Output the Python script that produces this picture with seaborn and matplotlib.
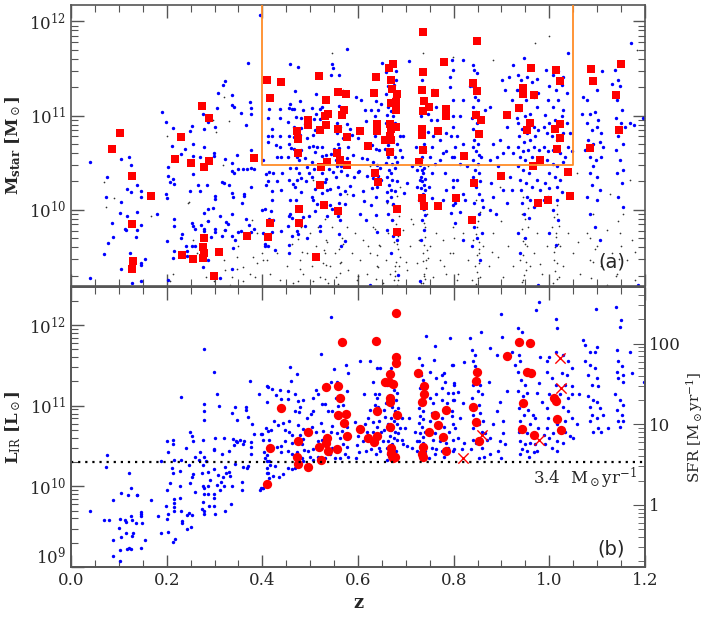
import numpy as np
import matplotlib
matplotlib.use("Agg")
import matplotlib.pyplot as plt
import seaborn as sns
from matplotlib.ticker import LogLocator, MultipleLocator, NullFormatter, FixedLocator, FixedFormatter

# ---- panel (a): stellar mass vs z, values as (z, log10 Mstar) ----
black_top = [
    (0.068,10.29),(0.089,10.13),(0.073,10.03),(0.167,9.93),(0.246,10.08),(0.284,9.88),(0.32,9.78),(0.346,9.5),
    (0.36,9.39),(0.319,9.47),(0.374,9.32),(0.388,9.43),(0.35,9.61),(0.336,9.29),(0.298,9.24),(0.332,9.2),
    (0.214,9.32),(0.207,9.24),(0.36,9.24),(0.385,9.29),(0.399,9.54),(0.388,9.75),(0.378,9.89),(0.303,10.83),
    (0.2,10.78),(0.32,11.2),(0.33,10.94),(0.296,10.95),(0.318,10.47),(0.256,9.68),(0.263,9.54),(0.245,10.07),
    (0.282,9.29),(0.322,9.36),(0.346,9.37),(0.381,9.5),(0.409,9.47),
    (0.402,9.47),(0.416,9.32),(0.43,9.54),(0.437,9.25),(0.451,9.40),(0.461,9.64),(0.465,9.22),(0.479,9.47),
    (0.486,9.32),(0.493,9.54),(0.5,9.75),(0.503,9.40),(0.506,9.24),(0.513,9.61),(0.517,9.82),(0.52,9.29),
    (0.527,9.43),(0.531,9.54),(0.534,9.68),(0.538,9.22),(0.541,9.40),(0.545,9.82),(0.552,9.54),(0.555,9.29),
    (0.562,9.43),(0.569,9.64),(0.576,9.82),(0.58,9.36),(0.587,9.54),(0.594,9.75),(0.597,9.25),(0.604,9.47),
    (0.611,9.68),(0.618,9.32),(0.625,9.54),(0.632,9.82),(0.639,9.40),(0.646,9.61),(0.653,9.22),(0.658,9.47),
    (0.663,9.75),(0.667,9.32),(0.67,9.54),(0.674,9.89),(0.677,9.40),(0.681,9.64),(0.684,9.25),(0.688,9.50),
    (0.695,9.79),(0.702,9.36),(0.709,9.61),(0.716,9.85),(0.723,9.43),(0.728,9.68),(0.732,9.22),(0.735,9.54),
    (0.738,9.32),(0.741,9.82),(0.743,9.47),(0.75,9.61),(0.757,9.29),(0.764,9.75),(0.771,9.47),(0.778,9.68),
    (0.785,9.32),(0.792,9.54),(0.799,9.82),(0.806,9.25),(0.479,10.03),(0.562,9.96),(0.66,10.07),(0.736,10.0),
    (0.506,10.32),(0.576,10.17),(0.625,10.46),(0.688,10.24),(0.747,10.46),(0.569,11.27),(0.736,11.66),
    (0.799,11.62),(0.545,11.66),
    (0.799,9.54),(0.81,9.32),(0.82,9.75),(0.831,9.47),(0.838,9.25),(0.841,9.68),(0.845,9.40),(0.848,9.82),
    (0.852,9.54),(0.855,9.29),(0.862,9.61),(0.873,9.40),(0.883,9.75),(0.893,9.50),(0.904,9.29),(0.914,9.61),
    (0.925,9.40),(0.935,9.75),(0.939,9.47),(0.942,9.96),(0.946,9.25),(0.949,9.64),(0.956,9.82),(0.96,9.40),
    (0.967,9.54),(0.974,9.75),(0.984,9.32),(0.995,9.61),(1.005,9.82),(1.01,9.47),(1.014,9.75),(1.017,9.96),
    (1.02,9.29),(1.022,9.61),(1.029,9.40),(1.04,9.75),(1.05,9.54),(1.064,9.32),(1.078,9.75),(1.085,9.47),
    (1.092,9.96),(1.099,9.61),(1.109,9.40),(1.12,9.79),(1.13,9.54),(1.141,9.32),(1.148,9.75),(1.155,9.96),
    (1.162,9.47),(1.172,9.68),(1.179,9.25),(0.897,10.24),(0.974,10.32),(1.057,10.39),(1.127,10.17),
    (1.169,10.32),(0.883,11.59),(0.97,11.77),(1.0,11.84),(1.183,11.70),
    (0.675,9.25),(0.678,9.35),(0.680,9.45),(0.683,9.58),(0.676,9.66),(0.684,9.72),(0.679,9.85),(0.686,9.93),
    (0.672,10.05),(0.681,10.15),(0.677,9.30),(0.685,9.40),(0.682,9.20),
    (0.735,9.22),(0.738,9.30),(0.742,9.38),(0.736,9.46),(0.744,9.57),(0.739,9.63),(0.741,9.71),(0.737,9.86),
    (0.745,9.95),(0.733,10.08),(0.740,9.26),(0.746,9.49),
    (0.846,9.21),(0.849,9.34),(0.852,9.43),(0.848,9.52),(0.853,9.66),(0.846,9.74),(0.850,9.88),(0.855,9.98),
    (0.847,10.10),(0.851,9.28),(0.854,9.58),
    (0.943,9.23),(0.947,9.31),(0.951,9.45),(0.945,9.52),(0.953,9.62),(0.948,9.70),(0.942,9.80),(0.950,9.90),
    (0.955,10.02),(0.944,10.14),(0.952,9.36),(0.946,9.67),
    (1.008,9.22),(1.012,9.35),(1.016,9.43),(1.010,9.55),(1.018,9.64),(1.013,9.71),(1.020,9.83),(1.009,9.92),
    (1.015,10.05),(1.017,9.27),(1.011,9.60),
    (0.558,9.21),(0.562,9.33),(0.565,9.45),(0.560,9.58),(0.566,9.70),(0.530,9.27),(0.534,9.41),(0.528,9.57),
    (0.536,9.66),(0.532,9.90),(0.475,9.24),(0.478,9.37),(0.482,9.55),(0.474,9.69),(0.480,9.82),
    (0.638,9.26),(0.642,9.39),(0.640,9.52),(0.644,9.63),(0.636,9.80),
    (1.088,9.28),(1.092,9.45),(1.095,9.58),(1.085,9.70),(1.140,9.30),(1.145,9.48),(1.150,9.62),(1.143,9.88),
    (0.60,9.30),(0.62,9.62),(0.70,9.45),(0.71,9.90),(0.78,9.40),(0.80,9.70),(0.88,9.55),(0.90,9.88),
    (0.98,9.42),(1.06,9.66),(1.12,9.20),(1.18,9.55),
]

blue_top = [
    (0.039,10.51),(0.075,10.35),(0.105,10.54),(0.122,10.56),(0.126,10.48),(0.118,10.22),(0.125,10.19),(0.146,10.20),
    (0.146,10.14),(0.137,10.26),(0.074,10.14),(0.105,10.08),(0.102,9.97),(0.086,9.86),(0.118,9.93),(0.138,9.98),
    (0.112,9.80),(0.114,9.78),(0.139,9.78),(0.147,9.84),(0.087,9.71),(0.136,9.71),(0.078,9.65),(0.07,9.53),
    (0.124,9.54),(0.146,9.43),(0.147,9.41),(0.155,9.48),(0.105,9.37),(0.128,9.22),(0.04,9.28),(0.18,9.96),
    (0.199,10.17),(0.201,10.13),(0.19,11.04),(0.199,10.93),(0.213,10.87),(0.212,10.68),(0.203,10.45),(0.202,10.36),
    (0.214,10.33),(0.215,10.27),(0.207,10.29),(0.248,10.20),(0.27,10.20),(0.266,10.26),(0.215,9.90),(0.215,9.83),
    (0.2,9.67),(0.202,9.25),(0.231,9.74),(0.229,9.70),(0.241,9.62),(0.216,9.56),(0.242,9.56),(0.214,9.49),
    (0.243,9.51),(0.253,9.86),(0.255,9.83),(0.259,9.80),(0.252,9.62),(0.259,9.61),(0.238,10.64),(0.229,10.59),
    (0.248,10.84),(0.253,10.89),(0.254,10.70),(0.254,10.57),(0.27,10.56),(0.277,10.67),(0.277,10.86),(0.275,11.02),
    (0.287,10.93),(0.3,10.88),(0.255,10.38),(0.285,10.26),(0.277,9.97),(0.287,10.01),(0.296,10.02),(0.3,10.15),
    (0.3,10.11),(0.298,10.60),(0.299,10.57),(0.321,10.54),(0.337,10.50),(0.312,9.93),(0.337,9.95),(0.323,9.87),
    (0.329,9.85),(0.287,9.88),(0.272,9.84),(0.277,9.80),(0.278,9.77),(0.3,9.80),(0.322,9.79),(0.3,9.76),
    (0.293,9.71),(0.316,9.72),(0.337,9.72),(0.35,9.76),(0.342,9.68),(0.339,9.59),(0.356,9.77),(0.383,9.80),
    (0.365,9.90),(0.372,9.84),(0.376,9.76),(0.275,9.39),(0.286,9.47),(0.311,9.28),(0.336,9.37),(0.339,10.14),
    (0.361,10.15),(0.358,10.07),(0.362,10.17),(0.376,10.24),(0.337,10.18),(0.33,10.26),(0.316,10.29),(0.32,10.28),
    (0.337,10.41),(0.341,10.39),(0.349,10.43),(0.36,10.43),(0.367,10.43),(0.383,10.43),(0.376,10.44),(0.346,10.58),
    (0.376,10.63),(0.308,11.24),(0.317,11.32),(0.322,11.37),(0.336,11.22),(0.337,11.11),(0.34,11.09),(0.305,11.08),
    (0.356,11.03),(0.375,11.14),(0.376,11.08),(0.377,11.02),(0.366,10.90),(0.37,11.56),(0.395,12.07),(0.402,10.53),
    (0.411,10.72),(0.411,10.78),(0.411,10.97),(0.413,11.07),(0.413,10.40),(0.411,10.30),(0.411,9.62),(0.405,9.64),
    (0.401,9.75),(0.413,9.90),(0.399,10.00),(0.146,9.24),
    (0.437,11.07),(0.437,10.97),(0.437,10.78),(0.429,10.69),(0.42,10.86),(0.421,10.78),(0.437,10.67),(0.438,10.56),
    (0.431,10.56),(0.407,10.38),(0.423,10.39),(0.408,10.26),(0.421,10.20),(0.44,10.21),(0.43,10.30),(0.441,10.39),
    (0.42,10.10),(0.419,9.99),(0.405,10.01),(0.423,9.89),(0.406,9.62),(0.42,9.76),(0.438,9.77),(0.427,9.57),
    (0.457,11.55),(0.469,11.26),(0.474,11.52),(0.457,11.12),(0.456,11.08),(0.462,11.07),(0.479,11.15),(0.47,10.98),
    (0.481,10.97),(0.467,11.07),(0.454,10.93),(0.466,10.88),(0.481,10.87),(0.456,10.78),(0.466,10.77),(0.479,10.79),
    (0.456,10.70),(0.459,10.66),(0.467,10.65),(0.481,10.63),(0.472,10.56),(0.477,10.53),(0.454,10.56),(0.458,10.44),
    (0.47,10.44),(0.476,10.39),(0.481,10.34),(0.473,10.32),(0.464,10.27),(0.456,10.32),(0.469,10.24),(0.481,10.19),
    (0.458,10.10),(0.47,10.10),(0.458,9.96),(0.455,9.93),(0.463,9.91),(0.453,9.83),(0.472,9.77),(0.463,9.72),
    (0.456,9.63),(0.456,9.54),(0.474,9.74),(0.485,9.92),(0.493,9.70),
    (0.486,11.06),(0.504,11.08),(0.512,11.23),(0.521,11.07),(0.524,11.09),(0.509,10.96),(0.52,10.96),(0.49,10.91),
    (0.511,10.85),(0.505,10.79),(0.493,10.76),(0.498,10.67),(0.506,10.68),(0.515,10.67),(0.524,10.67),(0.51,10.61),
    (0.525,10.57),(0.533,10.58),(0.544,10.59),(0.49,10.55),(0.504,10.51),(0.493,10.45),(0.509,10.43),(0.539,10.43),
    (0.547,10.40),(0.497,10.39),(0.503,10.35),(0.525,10.39),(0.534,10.33),(0.532,10.29),(0.491,10.30),(0.511,10.22),
    (0.524,10.18),(0.536,10.21),(0.541,10.22),(0.503,10.14),(0.506,10.10),(0.515,10.06),(0.542,10.05),(0.546,10.01),
    (0.511,9.99),(0.497,9.93),(0.535,9.93),(0.52,9.83),(0.521,9.77),(0.49,9.83),(0.544,11.43),(0.547,11.51),
    (0.545,11.55),(0.513,11.02),
    (0.561,11.43),(0.578,11.71),(0.561,11.10),(0.563,11.03),(0.556,10.92),(0.562,10.88),(0.557,10.82),(0.568,10.76),
    (0.559,10.70),(0.561,10.66),(0.58,10.67),(0.55,10.64),(0.561,10.56),(0.555,10.53),(0.577,10.55),(0.557,10.46),
    (0.565,10.46),(0.553,10.35),(0.564,10.41),(0.559,10.24),(0.578,10.37),(0.572,10.20),(0.583,10.25),(0.592,10.35),
    (0.601,10.40),(0.589,10.58),(0.6,10.76),(0.596,11.20),(0.562,10.17),(0.561,10.07),(0.559,9.93),(0.562,9.89),
    (0.561,9.74),(0.572,9.67),(0.564,9.61),(0.573,10.06),(0.589,10.16),(0.584,10.86),(0.587,10.79),(0.578,10.91),
    (0.607,11.17),(0.614,11.06),(0.616,10.94),(0.628,11.06),(0.636,10.99),(0.638,11.15),(0.637,10.92),(0.642,11.06),
    (0.648,11.12),(0.636,10.78),(0.629,10.69),(0.637,10.64),(0.643,10.63),(0.608,10.55),(0.618,10.54),(0.632,10.51),
    (0.64,10.47),(0.646,10.44),(0.603,10.41),(0.619,10.36),(0.632,10.34),(0.642,10.36),(0.649,10.32),(0.611,10.20),
    (0.629,10.23),(0.637,10.14),(0.64,10.24),(0.612,10.09),(0.627,10.05),(0.604,9.96),(0.617,9.89),(0.638,9.94),
    (0.64,9.76),(0.626,9.20),
    (0.651,11.56),(0.658,11.46),(0.68,11.47),(0.679,11.38),(0.663,11.31),(0.675,11.32),(0.658,11.23),(0.676,11.20),
    (0.663,11.09),(0.67,11.05),(0.682,11.09),(0.66,11.01),(0.674,10.99),(0.677,10.92),(0.658,10.92),(0.668,10.83),
    (0.66,10.78),(0.674,10.74),(0.663,10.69),(0.681,10.70),(0.656,10.64),(0.671,10.63),(0.663,10.56),(0.677,10.56),
    (0.658,10.50),(0.672,10.49),(0.682,10.51),(0.664,10.42),(0.677,10.44),(0.67,10.39),(0.66,10.35),(0.672,10.32),
    (0.681,10.30),(0.664,10.26),(0.668,10.21),(0.677,10.20),(0.66,10.19),(0.67,10.14),(0.661,10.09),(0.674,10.06),
    (0.663,9.96),(0.671,9.89),(0.661,9.78),(0.674,9.72),(0.681,9.68),(0.67,9.54),(0.684,9.31),(0.688,10.78),
    (0.695,10.78),(0.688,10.63),(0.693,10.56),(0.697,10.18),(0.707,11.58),
    (0.702,10.28),(0.712,10.46),(0.721,10.67),(0.723,10.42),(0.723,10.24),(0.728,10.10),(0.73,10.32),(0.733,10.42),
    (0.732,10.53),(0.73,10.47),(0.737,10.44),(0.735,10.39),(0.731,10.35),(0.74,10.33),(0.734,10.30),(0.737,10.26),
    (0.732,10.23),(0.74,10.21),(0.735,10.17),(0.731,10.07),(0.737,10.01),(0.74,9.94),(0.734,9.89),(0.738,9.78),
    (0.732,9.68),(0.73,9.24),(0.734,11.38),(0.733,11.16),(0.731,10.99),(0.73,10.78),(0.739,10.70),(0.741,10.62),
    (0.734,10.56),(0.75,10.56),(0.754,10.67),(0.757,10.78),(0.747,10.83),(0.752,10.95),(0.757,11.27),(0.747,11.02),
    (0.755,10.39),(0.749,10.24),(0.754,10.12),
    (0.762,10.49),(0.771,10.53),(0.777,10.60),(0.785,10.62),(0.796,10.56),(0.803,10.67),(0.797,11.59),(0.792,11.41),
    (0.792,11.30),(0.798,11.16),(0.785,11.02),(0.799,10.88),(0.795,10.78),(0.785,10.81),(0.771,10.74),(0.766,10.95),
    (0.763,11.09),(0.782,10.39),(0.798,10.32),(0.785,10.21),(0.777,10.10),(0.799,10.05),(0.794,9.97),
    (0.82,11.16),(0.813,10.99),(0.799,10.99),(0.806,10.78),(0.82,10.70),(0.801,10.56),(0.813,10.49),(0.827,10.46),
    (0.806,10.32),(0.799,10.24),(0.82,10.17),(0.803,10.07),(0.813,9.98),(0.824,10.10),(0.803,9.86),(0.82,9.68),
    (0.798,11.48),
    (0.841,11.54),(0.843,11.48),(0.848,11.45),(0.84,11.31),(0.845,11.20),(0.85,11.16),(0.841,11.09),(0.847,11.04),
    (0.838,10.97),(0.848,10.92),(0.84,10.86),(0.852,10.83),(0.843,10.74),(0.85,10.70),(0.84,10.67),(0.847,10.62),
    (0.854,10.58),(0.841,10.53),(0.85,10.49),(0.857,10.56),(0.845,10.42),(0.852,10.39),(0.841,10.35),(0.855,10.30),
    (0.847,10.24),(0.852,10.17),(0.859,10.10),(0.843,10.07),(0.862,10.03),(0.852,9.96),(0.843,9.82),(0.859,9.75),
    (0.848,9.70),(0.855,9.47),(0.838,9.61),(0.834,11.31),(0.82,11.59),
    (0.866,11.06),(0.875,11.09),(0.876,10.53),(0.883,10.70),(0.89,10.56),(0.897,10.74),(0.893,10.46),(0.904,10.60),
    (0.902,11.38),(0.907,11.27),(0.916,11.41),(0.921,11.16),(0.911,10.88),(0.914,10.67),(0.918,10.35),(0.879,10.28),
    (0.883,10.14),(0.904,10.21),(0.911,10.07),(0.921,10.21),(0.876,10.00),(0.889,9.96),(0.925,11.54),(0.947,11.61),
    (0.935,11.43),(0.941,11.38),(0.953,11.41),(0.963,11.36),(0.974,11.39),(0.937,11.27),(0.951,11.16),(0.967,11.20),
    (0.977,11.24),(0.939,11.06),(0.949,10.99),(0.96,11.02),(0.974,11.09),(0.935,10.92),(0.942,10.86),(0.953,10.81),
    (0.967,10.88),(0.977,10.85),(0.937,10.78),(0.947,10.72),(0.96,10.74),(0.97,10.78),(0.935,10.67),(0.944,10.62),
    (0.956,10.63),(0.967,10.67),(0.979,10.63),(0.939,10.56),(0.949,10.53),(0.963,10.56),(0.935,10.46),(0.946,10.42),
    (0.958,10.39),(0.939,10.32),(0.951,10.28),(0.963,10.24),(0.974,10.32),(0.94,10.21),(0.953,10.14),(0.96,10.10),
    (0.942,10.07),(0.967,10.03),(0.947,9.96),(0.958,9.91),(0.935,9.75),(0.949,9.70),(0.939,9.54),(0.977,9.20),
    (0.932,11.27),(0.932,10.97),(0.925,10.60),
    (0.994,11.48),(1.008,11.43),(1.019,11.47),(1.029,11.41),(1.04,11.66),(1.0,11.31),(1.014,11.27),(1.026,11.32),
    (1.036,11.24),(0.998,11.16),(1.008,11.09),(1.019,11.16),(1.029,11.06),(0.991,11.01),(1.0,10.92),(1.012,10.95),
    (1.026,10.99),(1.036,10.92),(0.995,10.81),(1.005,10.78),(1.015,10.74),(1.029,10.81),(1.04,10.67),(0.988,10.67),
    (0.998,10.62),(1.008,10.63),(1.022,10.60),(1.033,10.56),(0.995,10.53),(1.008,10.49),(1.017,10.46),(1.028,10.51),
    (1.0,10.39),(1.012,10.35),(1.022,10.32),(0.991,10.28),(1.0,10.23),(1.015,10.24),(1.026,10.19),(0.998,10.14),
    (1.015,10.10),(1.008,10.00),(1.019,9.89),(1.0,9.75),(1.014,9.63),(0.988,10.88),(1.043,10.81),(1.047,10.62),
    (0.981,10.21),(0.988,10.10),
    (1.071,11.20),(1.078,11.16),(1.085,11.02),(1.095,11.04),(1.102,10.95),(1.078,10.92),(1.089,10.85),(1.099,10.88),
    (1.109,10.81),(1.081,10.74),(1.092,10.70),(1.106,10.72),(1.113,10.67),(1.075,10.63),(1.085,10.56),(1.098,10.53),
    (1.107,10.56),(1.092,10.46),(1.084,10.39),(1.099,10.35),(1.089,10.26),(1.106,10.21),(1.078,10.14),(1.099,10.10),
    (1.085,9.96),(1.095,9.82),(1.106,9.68),(1.11,11.47),(1.099,11.27),(1.068,11.02),
    (1.137,11.48),(1.144,11.38),(1.148,11.31),(1.141,11.16),(1.151,11.06),(1.139,10.97),(1.149,10.92),(1.158,10.88),
    (1.144,10.78),(1.155,10.70),(1.139,10.63),(1.148,10.53),(1.155,10.42),(1.141,10.39),(1.151,10.28),(1.144,10.14),
    (1.155,10.03),(1.169,10.92),(1.176,10.90),(1.171,11.77),(1.13,11.34),(1.186,9.20),(1.195,10.97),
]

red_top = [
    (0.1025,10.82),(0.086,10.64),(0.128,10.36),(0.167,10.15),(0.127,9.85),(0.130,9.46),(0.128,9.37),
    (0.273,11.10),(0.288,10.97),(0.229,10.77),(0.218,10.54),(0.251,10.50),(0.289,10.52),(0.277,10.45),(0.383,10.55),
    (0.278,9.70),(0.367,9.72),(0.276,9.60),(0.277,9.54),(0.276,9.49),(0.309,9.55),(0.233,9.52),(0.254,9.48),(0.298,9.30),
    (0.409,11.38),(0.415,11.19),(0.415,9.86),(0.411,9.71),
    (0.440,11.36),(0.519,11.42),(0.638,11.41),(0.673,11.55),(0.664,11.50),(0.668,11.38),(0.735,11.89),(0.779,11.57),
    (0.736,11.46),(0.559,11.25),(0.574,11.23),(0.534,11.17),(0.634,11.24),(0.672,11.28),(0.682,11.23),(0.733,11.27),
    (0.762,11.24),(0.737,11.15),(0.669,11.13),(0.679,11.14),(0.680,11.06),(0.749,11.09),(0.783,11.07),(0.735,11.05),
    (0.785,11.00),(0.571,11.06),(0.537,11.02),(0.532,10.99),(0.566,11.01),(0.496,10.95),(0.495,10.90),(0.533,10.90),
    (0.473,10.84),(0.521,10.85),(0.558,10.86),(0.604,10.84),(0.640,10.91),(0.639,10.84),(0.667,10.91),(0.668,10.86),
    (0.680,10.88),(0.733,10.86),(0.733,10.79),(0.767,10.84),(0.475,10.75),(0.577,10.77),(0.666,10.78),(0.656,10.74),
    (0.669,10.74),(0.620,10.68),(0.474,10.60),(0.556,10.60),(0.666,10.61),(0.736,10.63),(0.562,10.53),(0.535,10.51),
    (0.576,10.48),(0.522,10.45),(0.727,10.51),(0.635,10.39),(0.641,10.29),(0.520,10.26),(0.733,10.13),(0.739,10.04),
    (0.767,10.04),(0.804,10.12),(0.529,10.05),(0.476,10.01),(0.558,9.99),(0.682,10.01),(0.477,9.86),(0.681,9.76),
    (0.513,9.50),
    (0.848,11.79),(0.961,11.50),(1.013,11.48),(1.088,11.49),(1.150,11.55),(0.840,11.35),(0.848,11.26),(1.023,11.37),
    (1.091,11.37),(0.944,11.29),(0.944,11.23),(0.968,11.22),(1.139,11.22),(0.937,11.08),(0.912,11.01),(0.846,11.01),
    (0.858,10.95),(0.960,10.92),(0.953,10.85),(1.011,10.86),(1.022,10.91),(1.145,10.85),(0.853,10.80),(1.023,10.76),
    (1.016,10.64),(1.085,10.66),(0.821,10.57),(0.981,10.53),(0.966,10.46),(1.038,10.40),(0.899,10.36),(0.842,10.28),
    (1.043,10.15),(0.997,10.10),(0.976,10.07),(0.838,9.89),
]

# selection box of panel (a): z range and minimum mass
box_z = [0.40, 1.05]
box_mass_min = 3.0e10

# ---- panel (b): infrared luminosity vs z, values as (z, log10 L_IR) ----
blue_bot = [
    (0.039,9.70),(0.07,9.58),(0.079,9.58),(0.075,10.39),(0.074,10.24),(0.087,9.83),(0.087,9.34),(0.087,9.14),
    (0.103,9.08),(0.101,9.48),(0.103,9.21),(0.105,9.37),(0.105,9.92),(0.103,9.59),(0.113,9.58),(0.114,9.56),
    (0.114,9.42),(0.119,9.89),(0.122,10.17),(0.125,9.98),(0.126,9.63),(0.127,9.58),(0.126,9.22),(0.121,9.23),
    (0.118,9.22),(0.128,9.38),(0.13,9.42),(0.136,9.55),(0.137,9.89),(0.139,9.89),(0.146,9.68),(0.146,9.66),
    (0.146,9.63),(0.148,9.54),(0.146,9.24),(0.155,9.34),(0.167,9.83),(0.181,9.63),(0.188,9.42),(0.189,10.31),
    (0.201,10.56),(0.202,10.42),(0.2,9.96),(0.198,9.76),(0.202,9.66),(0.201,9.60),(0.202,9.44),(0.211,10.23),
    (0.207,10.04),(0.213,10.57),(0.214,10.52),(0.215,10.33),(0.214,10.16),(0.215,9.84),(0.215,9.79),(0.216,9.74),
    (0.215,9.69),(0.218,9.35),(0.214,9.31),(0.227,10.19),(0.229,10.33),(0.228,10.01),(0.228,9.86),(0.229,9.69),
    (0.231,9.57),(0.232,9.54),(0.229,11.11),(0.241,10.48),(0.243,9.64),(0.243,9.47),(0.247,10.27),(0.249,10.68),
    (0.252,10.63),(0.254,10.56),(0.255,10.15),(0.253,10.11),(0.249,10.04),(0.247,9.67),(0.251,9.49),(0.253,9.65),
    (0.259,9.93),(0.26,10.36),(0.267,10.33),(0.27,10.42),(0.273,9.72),(0.273,10.17),(0.275,10.57),(0.276,10.26),
    (0.277,10.82),(0.277,10.93),(0.277,11.02),(0.278,11.70),(0.275,10.0),(0.277,9.98),(0.283,10.31),(0.277,9.91),
    (0.275,9.81),(0.277,9.70),(0.277,9.66),(0.277,10.37),(0.287,10.18),(0.287,10.01),(0.286,9.91),(0.288,9.76),
    (0.291,10.08),(0.298,10.45),(0.299,10.46),(0.3,10.60),(0.298,10.22),(0.298,9.90),(0.299,9.86),(0.299,9.76),
    (0.3,9.66),(0.298,11.42),(0.305,11.15),(0.305,10.02),(0.31,11.0),(0.308,10.14),(0.312,9.95),(0.313,10.06),
    (0.316,10.40),(0.317,10.11),(0.32,10.60),(0.322,10.24),(0.323,10.17),(0.32,10.00),(0.321,9.70),(0.33,10.44),
    (0.331,10.18),(0.333,10.13),(0.335,9.78),(0.337,10.01),(0.337,10.91),(0.338,10.59),(0.341,10.51),(0.342,10.28),
    (0.344,10.56),(0.343,10.99),(0.346,10.82),(0.348,10.55),(0.354,10.57),(0.358,10.05),(0.358,9.96),(0.359,10.52),
    (0.359,10.24),(0.362,10.56),(0.366,10.99),(0.365,10.95),(0.369,10.86),(0.368,10.23),(0.371,10.25),(0.376,10.55),
    (0.376,10.49),(0.376,10.40),(0.378,10.77),(0.374,11.31),(0.383,10.65),(0.394,11.15),(0.395,9.96),(0.401,10.58),
    (0.404,10.43),(0.41,10.39),(0.411,10.69),(0.41,11.05),(0.411,11.23),(0.413,10.58),(0.409,10.32),(0.41,10.16),
    (0.414,10.10),(0.401,9.98),(0.4,10.65),(0.413,10.32),
    (0.543,12.10),(0.522,11.64),(0.458,11.48),(0.473,11.39),(0.46,11.31),(0.41,11.25),(0.42,11.21),(0.437,11.19),
    (0.428,11.13),(0.454,11.18),(0.454,11.08),(0.468,11.15),(0.474,11.06),(0.486,11.07),(0.513,11.19),(0.517,11.14),
    (0.505,11.09),(0.524,11.02),(0.531,11.02),(0.549,11.46),(0.557,11.30),(0.575,11.50),(0.58,11.40),(0.544,11.30),
    (0.578,11.18),(0.553,11.09),(0.546,10.93),(0.558,11.00),(0.568,11.01),(0.538,10.94),(0.506,10.93),(0.501,10.90),
    (0.479,10.99),(0.477,10.92),(0.468,10.93),(0.493,10.85),(0.438,11.08),(0.435,10.98),(0.424,10.81),(0.419,10.70),
    (0.408,10.72),(0.398,10.65),(0.433,10.76),(0.444,10.79),(0.447,10.70),(0.456,10.81),(0.455,10.68),(0.463,10.64),
    (0.474,10.76),(0.484,10.71),(0.479,10.64),(0.486,10.59),(0.503,10.74),(0.513,10.68),(0.522,10.78),(0.526,10.69),
    (0.516,10.56),(0.524,10.58),(0.545,10.75),(0.543,10.68),(0.556,10.66),(0.563,10.60),(0.567,10.69),(0.578,10.74),
    (0.569,10.52),(0.578,10.49),(0.559,10.48),(0.545,10.47),(0.506,10.46),(0.496,10.44),(0.488,10.45),(0.482,10.52),
    (0.473,10.56),(0.461,10.54),(0.447,10.56),(0.44,10.50),(0.43,10.49),(0.438,10.42),(0.454,10.44),(0.463,10.40),
    (0.472,10.42),(0.483,10.35),(0.5,10.37),(0.506,10.33),(0.517,10.37),(0.531,10.35),(0.541,10.40),(0.552,10.35),
    (0.562,10.35),(0.573,10.40),(0.58,10.37),(0.594,10.80),(0.599,10.62),(0.597,10.51),(0.603,10.42),(0.595,10.35),
    (0.613,11.14),(0.604,11.56),(0.614,10.77),(0.618,10.68),(0.611,10.56),(0.617,10.44),(0.621,10.62),(0.625,11.56),
    (0.632,11.29),(0.635,11.14),(0.639,11.47),(0.64,11.09),(0.644,11.14),(0.635,11.01),(0.642,10.99),(0.647,11.47),
    (0.625,10.95),(0.621,10.85),(0.632,10.80),(0.639,10.74),(0.632,10.68),(0.644,10.81),(0.649,10.68),(0.63,10.58),
    (0.643,10.48),(0.637,10.40),(0.647,10.44),(0.628,10.46),(0.653,10.56),(0.654,10.70),(0.656,10.86),(0.655,10.95),
    (0.658,11.03),(0.66,11.26),(0.668,11.47),(0.67,11.26),(0.675,11.20),(0.681,11.16),(0.672,11.12),(0.679,11.07),
    (0.671,10.99),(0.677,10.93),(0.684,10.97),(0.669,10.85),(0.675,10.81),(0.682,10.77),(0.663,10.77),(0.67,10.70),
    (0.677,10.68),(0.684,10.66),(0.667,10.62),(0.675,10.60),(0.663,10.56),(0.672,10.53),(0.681,10.57),(0.66,10.48),
    (0.67,10.46),(0.679,10.44),(0.663,10.40),(0.682,10.37),(0.66,10.33),(0.688,10.72),(0.691,10.58),(0.695,10.52),
    (0.702,10.50),(0.698,10.72),(0.693,10.85),(0.706,10.85),(0.712,10.48),(0.719,10.68),(0.723,10.56),(0.724,10.44),
    (0.728,11.59),(0.733,11.51),(0.732,11.38),(0.735,11.32),(0.73,11.22),(0.739,11.14),(0.731,11.05),(0.728,10.97),
    (0.735,10.93),(0.73,10.87),(0.736,10.83),(0.728,10.79),(0.734,10.73),(0.74,10.68),(0.73,10.66),(0.735,10.61),
    (0.728,10.56),(0.736,10.54),(0.731,10.46),(0.74,10.44),(0.73,10.40),(0.738,10.35),(0.742,11.87),(0.761,11.74),
    (0.759,11.57),(0.75,11.42),(0.764,11.34),(0.775,11.38),(0.78,11.40),(0.792,11.84),(0.798,11.51),(0.782,11.30),
    (0.801,11.28),(0.775,11.22),(0.789,11.16),(0.799,11.16),(0.763,11.14),(0.75,11.09),(0.757,11.03),(0.775,11.07),
    (0.787,11.03),(0.799,11.07),(0.754,10.91),(0.766,10.87),(0.775,10.85),(0.796,10.87),(0.75,10.81),(0.78,10.74),
    (0.798,10.77),(0.749,10.70),(0.761,10.66),(0.791,10.68),(0.757,10.58),(0.771,10.56),(0.785,10.54),(0.799,10.58),
    (0.754,10.48),(0.764,10.46),(0.775,10.44),(0.789,10.48),(0.798,10.44),(0.761,10.40),(0.78,10.37),(0.749,10.35),
    (0.405,10.35),(0.409,10.23),(0.412,10.17),(0.423,10.13),(0.416,10.27),(0.426,10.25),(0.435,10.12),(0.402,9.98),
    (0.397,9.98),(0.454,10.23),(0.461,10.21),(0.468,10.23),(0.444,10.15),(0.486,10.31),
    (0.857,11.91),(0.839,11.69),(0.845,11.63),(0.84,11.55),(0.845,11.49),(0.822,11.54),(0.834,11.84),(0.797,11.51),
    (0.801,11.26),(0.81,11.17),(0.801,11.07),(0.796,10.93),(0.82,11.03),(0.813,10.85),(0.803,10.72),(0.81,10.60),
    (0.822,10.54),(0.801,10.46),(0.817,10.46),(0.836,10.46),(0.841,11.26),(0.85,11.18),(0.855,11.26),(0.838,11.09),
    (0.852,11.01),(0.859,11.14),(0.841,10.89),(0.855,10.91),(0.862,10.81),(0.841,10.72),(0.852,10.77),(0.859,10.68),
    (0.866,10.66),(0.841,10.58),(0.847,10.54),(0.859,10.48),(0.869,10.58),(0.875,10.60),(0.852,10.35),(0.864,10.37),
    (0.876,10.40),(0.873,11.30),(0.877,11.72),(0.89,11.63),(0.883,10.77),(0.89,10.93),(0.897,11.05),(0.904,10.81),
    (0.897,10.56),(0.907,10.52),(0.9,10.35),(0.893,10.44),(0.904,10.66),(0.911,11.18),(0.9,12.14),(0.902,11.85),
    (0.921,11.67),(0.928,11.51),(0.935,11.97),(0.942,11.92),(0.937,11.63),(0.939,11.55),(0.935,11.42),(0.941,11.32),
    (0.949,11.26),(0.935,11.18),(0.944,11.12),(0.953,11.16),(0.937,10.97),(0.947,10.89),(0.956,10.95),(0.965,10.89),
    (0.939,10.81),(0.96,10.77),(0.97,10.85),(0.937,10.68),(0.953,10.66),(0.977,10.72),(0.939,10.56),(0.949,10.52),
    (0.96,10.54),(0.97,10.52),(0.942,10.46),(0.954,10.44),(0.967,10.42),(0.939,10.40),(0.958,10.37),(0.974,10.44),
    (0.981,11.61),(0.979,11.28),(0.974,11.16),(0.984,11.05),(0.972,12.19),(0.979,12.29),(0.995,11.55),(1.0,11.61),
    (0.995,11.42),(1.005,11.34),(1.014,12.08),(1.015,11.96),(1.014,11.67),(1.029,11.63),(1.04,11.55),(1.047,11.47),
    (1.036,11.38),(1.026,11.40),(1.014,11.26),(1.033,11.26),(1.047,11.24),(1.0,11.14),(1.022,11.14),(1.04,11.09),
    (1.047,11.14),(0.995,10.97),(1.029,10.99),(1.04,10.93),(0.998,10.85),(1.015,10.77),(1.033,10.81),(1.047,10.85),
    (0.995,10.72),(1.008,10.66),(1.033,10.68),(1.043,10.62),(1.0,10.60),(1.017,10.56),(1.029,10.54),(1.05,10.60),
    (0.991,10.52),(1.005,10.48),(1.015,10.44),(0.988,10.64),(1.057,10.77),(1.061,11.14),(1.07,11.81),(1.075,11.75),
    (1.098,12.20),(1.085,11.67),(1.095,11.67),(1.099,11.73),(1.075,11.55),(1.085,11.51),(1.095,11.47),(1.081,11.38),
    (1.099,11.34),(1.089,11.26),(1.102,11.24),(1.081,11.12),(1.092,11.07),(1.099,11.05),(1.085,10.99),(1.106,10.97),
    (1.089,10.89),(1.099,10.85),(1.113,10.89),(1.085,10.81),(1.102,10.72),(1.109,10.68),(1.092,10.68),(1.123,10.72),
    (1.14,12.23),(1.149,12.06),(1.148,11.98),(1.141,11.69),(1.144,11.55),(1.151,11.49),(1.142,11.42),(1.155,11.38),
    (1.172,11.40),(1.169,11.67),(1.144,11.34),(1.153,11.30),(1.137,11.14),(1.148,11.07),(1.155,11.01),(1.141,10.95),
    (1.151,10.89),(1.144,10.81),(1.155,10.81),(1.148,10.74),(1.197,11.30),
]

red_bot = [
    (0.416,10.47),(0.409,10.03),
    (0.679,12.15),(0.566,11.79),(0.638,11.80),(0.680,11.60),(0.680,11.53),(0.726,11.41),(0.667,11.39),(0.657,11.29),
    (0.665,11.29),(0.673,11.27),(0.533,11.23),(0.558,11.25),(0.737,11.24),(0.737,11.15),(0.562,11.10),(0.666,11.10),
    (0.666,11.04),(0.733,11.05),(0.440,10.97),(0.639,10.93),(0.559,10.89),(0.574,10.90),(0.681,10.89),(0.761,10.89),
    (0.785,10.95),(0.571,10.79),(0.767,10.76),(0.666,10.74),(0.604,10.71),(0.496,10.68),(0.749,10.67),(0.578,10.63),
    (0.639,10.62),(0.778,10.61),(0.535,10.60),(0.620,10.60),(0.475,10.56),(0.534,10.54),(0.634,10.55),(0.519,10.49),
    (0.537,10.44),(0.556,10.46),(0.668,10.48),(0.735,10.49),(0.783,10.44),(0.668,10.41),(0.733,10.40),(0.672,10.38),
    (0.677,10.36),(0.673,10.35),(0.735,10.37),(0.473,10.36),(0.522,10.33),(0.474,10.28),(0.496,10.24),
    (0.937,11.79),(0.960,11.78),(0.912,11.62),(0.848,11.42),(0.953,11.42),(0.961,11.41),(0.847,11.31),(1.010,11.09),
    (1.014,11.06),(0.840,10.99),(0.944,11.03),(0.847,10.80),(1.017,10.83),(0.943,10.71),(1.024,10.70),(0.968,10.64),
    (0.854,10.56),
]

cross_bot = [(0.820,10.35),(0.859,10.64),(1.022,11.59),(1.024,11.22),(0.979,10.58)]

lir_limit = 2.0e10        # 3.4 Msun/yr
sfr_per_lir = 1.7e-10     # SFR = 1.7e-10 L_IR
sfr_ticks = [1, 10, 100]


def arr(pairs):
    a = np.array(pairs, dtype=float)
    return a[:, 0], 10 ** a[:, 1]


sns.set_style("ticks")
plt.rcParams["font.family"] = ["DejaVu Serif"]
plt.rcParams["mathtext.fontset"] = "dejavuserif"
plt.rcParams["xtick.direction"] = "in"
plt.rcParams["ytick.direction"] = "in"

FRAME = "#555555"
BLUE = "#0000ff"
RED = "#ff0000"

fig = plt.figure(figsize=(7.08, 6.38), dpi=100)
ax_a = fig.add_axes([0.1003, 0.5517, 0.8107, 0.4404])
ax_b = fig.add_axes([0.1003, 0.1113, 0.8107, 0.4389])

# panel (a)
x, y = arr(black_top)
sns.scatterplot(x=x, y=y, ax=ax_a, color="#333333", s=1.5, linewidth=0, marker="o")
x, y = arr(blue_top)
sns.scatterplot(x=x, y=y, ax=ax_a, color=BLUE, s=6, linewidth=0, marker="o")
x, y = arr(red_top)
sns.scatterplot(x=x, y=y, ax=ax_a, color=RED, s=30, linewidth=0, marker="s")
ax_a.plot([box_z[0], box_z[0], box_z[1], box_z[1]], [1e13, box_mass_min, box_mass_min, 1e13],
          color="#ff8c28", lw=1.3, zorder=5)
ax_a.set_yscale("log")
ax_a.set_xlim(0, 1.2)
ax_a.set_ylim(1.55e9, 1.49e12)
ax_a.set_ylabel(r"$\mathbf{M_{star}}$ [M$_\odot$]", fontsize=12, fontweight="bold", labelpad=4)
ax_a.text(0.965, 0.05, "(a)", transform=ax_a.transAxes, ha="right", va="bottom",
          fontsize=14, family="DejaVu Sans")
ax_a.xaxis.set_major_formatter(NullFormatter())

# panel (b)
x, y = arr(blue_bot)
sns.scatterplot(x=x, y=y, ax=ax_b, color=BLUE, s=6, linewidth=0, marker="o")
x, y = arr(red_bot)
sns.scatterplot(x=x, y=y, ax=ax_b, color=RED, s=45, linewidth=0, marker="o")
x, y = arr(cross_bot)
sns.scatterplot(x=x, y=y, ax=ax_b, color=RED, s=55, linewidth=1.0, marker="x")
ax_b.axhline(lir_limit, color="black", ls=(0, (1, 2.2)), lw=1.6, zorder=1)
ax_b.set_yscale("log")
ax_b.set_xlim(0, 1.2)
ax_b.set_ylim(1.0e9, 2.97e12)
ax_b.set_ylabel(r"L$_{\mathrm{IR}}$ [L$_\odot$]", fontsize=12, fontweight="bold", labelpad=4)
ax_b.set_xlabel("z", fontsize=13, fontweight="bold", labelpad=4)
ax_b.text(0.965, 0.03, "(b)", transform=ax_b.transAxes, ha="right", va="bottom",
          fontsize=14, family="DejaVu Sans")
ax_b.text(0.985, 0.315, r"3.4  M$_\odot$yr$^{-1}$", transform=ax_b.transAxes,
          ha="right", va="center", fontsize=12)

for ax in (ax_a, ax_b):
    ax.xaxis.set_major_locator(MultipleLocator(0.2))
    ax.xaxis.set_minor_locator(MultipleLocator(0.05))
    ax.yaxis.set_major_locator(LogLocator(base=10, numticks=10))
    ax.yaxis.set_minor_locator(LogLocator(base=10, subs=np.arange(2, 10), numticks=20))
    ax.yaxis.set_minor_formatter(NullFormatter())
    ax.tick_params(which="major", length=9, width=1, color=FRAME, labelsize=12, top=True)
    ax.tick_params(which="minor", length=5, width=0.8, color=FRAME, top=True)
    for sp in ax.spines.values():
        sp.set_color(FRAME)
        sp.set_linewidth(1.2)
    ax.set_facecolor("white")

ax_a.tick_params(which="both", right=True)
ax_b.xaxis.set_major_formatter(matplotlib.ticker.FormatStrFormatter("%.1f"))

# SFR axis on the right of panel (b)
ax_s = ax_b.twinx()
ax_s.set_yscale("log")
ax_s.set_ylim(ax_b.get_ylim()[0] * sfr_per_lir, ax_b.get_ylim()[1] * sfr_per_lir)
ax_s.yaxis.set_major_locator(FixedLocator(sfr_ticks))
ax_s.yaxis.set_major_formatter(FixedFormatter([str(t) for t in sfr_ticks]))
ax_s.yaxis.set_minor_locator(LogLocator(base=10, subs=np.arange(2, 10), numticks=20))
ax_s.yaxis.set_minor_formatter(NullFormatter())
ax_s.tick_params(which="major", direction="in", length=9, color=FRAME, labelsize=12, pad=3)
ax_s.tick_params(which="minor", direction="in", length=5, color=FRAME)
ax_s.set_ylabel(r"SFR [M$_\odot$yr$^{-1}$]", fontsize=11, labelpad=2)
for sp in ax_s.spines.values():
    sp.set_color(FRAME)
    sp.set_linewidth(1.2)

# lift the 10^9 label off the x tick labels, as in the reference
fig.canvas.draw()
for lab in ax_b.get_yticklabels():
    if abs(lab.get_position()[1] - 1e9) < 1:
        lab.set_verticalalignment("bottom")

fig.savefig("out.png", dpi=100)
